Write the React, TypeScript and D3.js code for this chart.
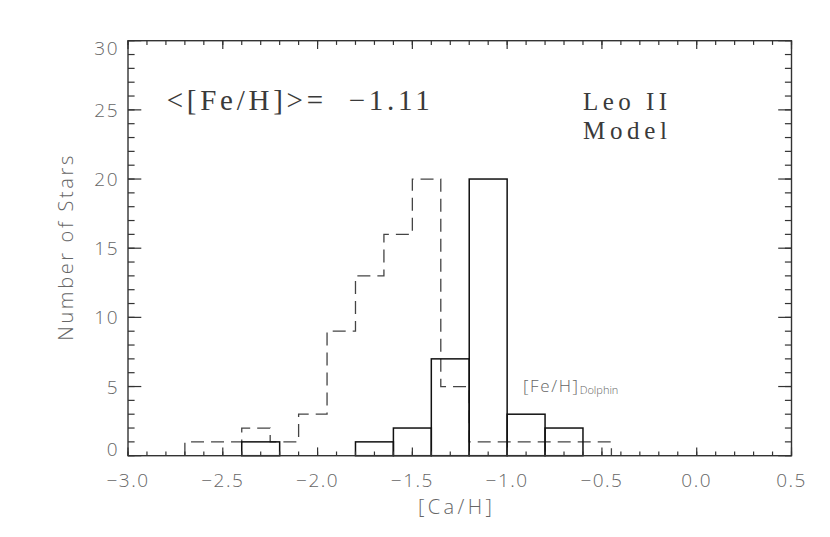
import React from "react";
import * as d3 from "d3";

// ---- data ----
const solidBinStarts = [-2.4, -1.8, -1.6, -1.4, -1.2, -1.0, -0.8];
const solidCounts = [1, 1, 2, 7, 20, 3, 2];
const solidBinWidth = 0.2;

const dashedEdges = [-2.7, -2.55, -2.4, -2.25, -2.1, -1.95, -1.8, -1.65, -1.5, -1.35, -1.2, -1.05, -0.9, -0.75, -0.6, -0.45];
const dashedCounts = [1, 1, 2, 1, 3, 9, 13, 16, 20, 5, 1, 1, 1, 1, 1];

const xMajorTicks = [-3.0, -2.5, -2.0, -1.5, -1.0, -0.5, 0.0, 0.5];
const xTickLabels = ["\u22123.0", "\u22122.5", "\u22122.0", "\u22121.5", "\u22121.0", "\u22120.5", "0.0", "0.5"];
const yMajorTicks = [0, 5, 10, 15, 20, 25, 30];
const yTickLabels = ["0", "5", "10", "15", "20", "25", "30"];

const W = 830, H = 537;
const L = 128, R = 791.5, T = 40.7, B = 455.7;

export default function App() {
  const x = d3.scaleLinear().domain([-3.0, 0.5]).range([L, R]);
  const y = d3.scaleLinear().domain([0, 30]).range([B, T]);

  const xMinor = d3.range(0, 36).map((i) => -3.0 + i * 0.1);
  const yMinor = d3.range(0, 31);
  const xMajLen = 8.3, xMinLen = 4.2, yMajLen = 13.3, yMinLen = 6.6;

  // dashed step outline
  const stepPts: [number, number][] = [[dashedEdges[0], 0]];
  dashedCounts.forEach((c, i) => {
    stepPts.push([dashedEdges[i], c]);
    stepPts.push([dashedEdges[i + 1], c]);
  });
  stepPts.push([dashedEdges[dashedEdges.length - 1], 0]);
  const line = d3.line<[number, number]>().x((d) => x(d[0])).y((d) => y(d[1]));

  const axisColor = "#333";
  const labelColor = "#666";
  const sans = "'Open Sans', 'DejaVu Sans', sans-serif";
  const serif = "'Liberation Serif', 'DejaVu Serif', serif";

  return (
    <svg width={W} height={H} style={{ position: "absolute", left: 0, top: 0, background: "#fff" }}>
      {/* dashed histogram */}
      <path d={line(stepPts) || ""} fill="none" stroke="#444" strokeWidth={1.3} strokeDasharray="13,7" />
      {/* solid bars */}
      {solidBinStarts.map((s, i) => (
        <rect key={i} x={x(s)} y={y(solidCounts[i])} width={x(s + solidBinWidth) - x(s)} height={y(0) - y(solidCounts[i])}
          fill="none" stroke="#111" strokeWidth={1.5} />
      ))}
      {/* frame */}
      <rect x={L} y={T} width={R - L} height={B - T} fill="none" stroke={axisColor} strokeWidth={1.4} />
      {/* x ticks */}
      {xMinor.map((v, i) => (
        <g key={"xm" + i} stroke={axisColor} strokeWidth={1.2}>
          <line x1={x(v)} x2={x(v)} y1={B} y2={B - xMinLen} />
          <line x1={x(v)} x2={x(v)} y1={T} y2={T + xMinLen} />
        </g>
      ))}
      {xMajorTicks.map((v, i) => (
        <g key={"xM" + i} stroke={axisColor} strokeWidth={1.2}>
          <line x1={x(v)} x2={x(v)} y1={B} y2={B - xMajLen} />
          <line x1={x(v)} x2={x(v)} y1={T} y2={T + xMajLen} />
        </g>
      ))}
      {/* y ticks */}
      {yMinor.map((v, i) => (
        <g key={"ym" + i} stroke={axisColor} strokeWidth={1.2}>
          <line x1={L} x2={L + yMinLen} y1={y(v)} y2={y(v)} />
          <line x1={R} x2={R - yMinLen} y1={y(v)} y2={y(v)} />
        </g>
      ))}
      {yMajorTicks.map((v, i) => (
        <g key={"yM" + i} stroke={axisColor} strokeWidth={1.2}>
          <line x1={L} x2={L + yMajLen} y1={y(v)} y2={y(v)} />
          <line x1={R} x2={R - yMajLen} y1={y(v)} y2={y(v)} />
        </g>
      ))}
      {/* x tick labels */}
      {xMajorTicks.map((v, i) => (
        <text key={"xl" + i} x={x(v)} y={486.5} textAnchor="middle" fontFamily={sans} fontSize={19} fontWeight={300}
          letterSpacing={1.5} fill={labelColor}>{xTickLabels[i]}</text>
      ))}
      {/* y tick labels */}
      {yMajorTicks.map((v, i) => {
        const cy = Math.min(Math.max(y(v), T + 7), B - 7);
        return (
          <text key={"yl" + i} x={119} y={cy + 7} textAnchor="end" fontFamily={sans} fontSize={19} fontWeight={300}
            letterSpacing={1.5} fill={labelColor}>{yTickLabels[i]}</text>
        );
      })}
      {/* axis titles */}
      <text x={418} y={514} fontFamily={sans} fontSize={20} fontWeight={300} fill={labelColor}
        textLength={74} lengthAdjust="spacing">[Ca/H]</text>
      <text transform={`translate(73, ${(T + B) / 2}) rotate(-90)`} textAnchor="middle" fontFamily={sans}
        fontSize={20} fontWeight={300} fill={labelColor} textLength={185} lengthAdjust="spacing">Number of Stars</text>
      {/* annotations */}
      <text x={166.7} y={110} fontFamily={serif} fontSize={29} fill="#3a3a3a" textLength={263} lengthAdjust="spacing">
        {"<[Fe/H]>=\u00a0\u00a0\u22121.11"}
      </text>
      <text x={583} y={110} fontFamily={serif} fontSize={25} fill="#3a3a3a" textLength={84} lengthAdjust="spacing">Leo II</text>
      <text x={583} y={139} fontFamily={serif} fontSize={25} fill="#3a3a3a" textLength={84} lengthAdjust="spacing">Model</text>
      <text x={523} y={392} fontFamily={sans} fontSize={17} fontWeight={300} fill={labelColor}>
        <tspan textLength={55} lengthAdjust="spacing">[Fe/H]</tspan>
        <tspan fontSize={11} dy={2}>Dolphin</tspan>
      </text>
    </svg>
  );
}
